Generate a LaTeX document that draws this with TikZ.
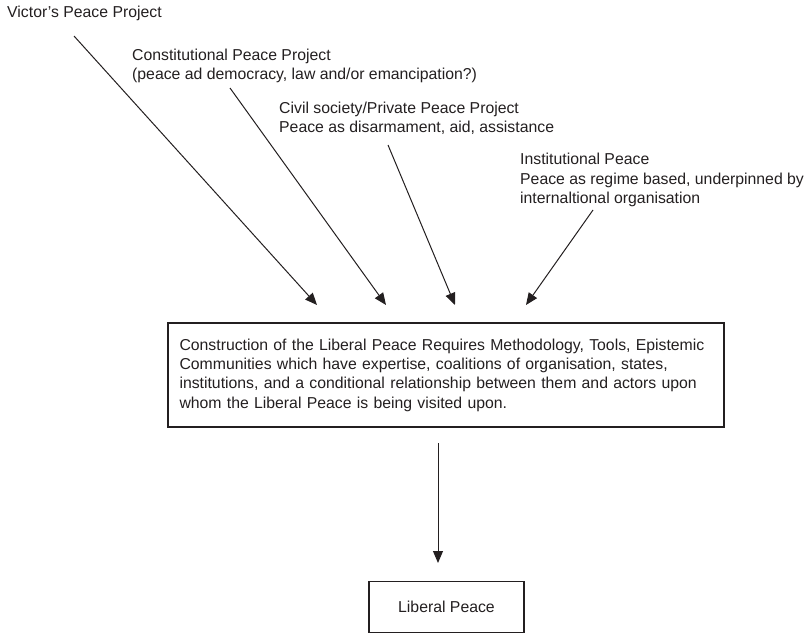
\documentclass[tikz,border=0pt]{standalone}
\usepackage{fontspec}
\setmainfont{Liberation Sans}
\usetikzlibrary{arrows.meta}
\definecolor{ink}{RGB}{35,31,32}
\begin{document}
\begin{tikzpicture}[x=1pt,y=-1pt,
  txt/.style={inner sep=0pt,anchor=base west,align=left,text=ink,
    font=\fontsize{15.8pt}{19.3pt}\selectfont},
  boxed/.style={draw=ink,line width=1.2pt,text=ink,
    font=\fontsize{15.8pt}{19.3pt}\selectfont},
  conn/.style={draw=ink,line width=1pt,-{Triangle[length=12pt,width=10pt]}}]
\useasboundingbox (0,0) rectangle (811,634);
% source texts (base anchor = baseline of last line)
\node[txt] (victor) at (7,18) {Victor’s Peace Project};
\node[txt] (const) at (132,80) {Constitutional Peace Project\\(peace ad democracy, law and/or emancipation?)};
\node[txt] (civil) at (279,132.5) {Civil society/Private Peace Project\\Peace as disarmament, aid, assistance};
\node[txt] (inst) at (520,203.5) {Institutional Peace\\Peace as regime based, underpinned by\\internaltional organisation};
% boxes
\node[boxed,minimum width=556pt,minimum height=104pt,text width=533pt,inner xsep=11.5pt,align=left] (constr) at (446,375)
  {Construction of the Liberal Peace Requires Methodology, Tools, Epistemic\\Communities which have expertise, coalitions of organisation, states,\\institutions, and a conditional relationship between them and actors upon\\whom the Liberal Peace is being visited upon.};
\node[boxed,minimum width=155pt,minimum height=50.5pt] (lib) at (446.5,607) {Liberal Peace};
% connector ends
\coordinate (v0) at (74,36);
\coordinate (v1) at (317,305);
\coordinate (c0) at (230,88);
\coordinate (c1) at (386,305);
\coordinate (s0) at (388,145);
\coordinate (s1) at (455,305);
\coordinate (i0) at (593,210);
\coordinate (i1) at (526,305);
\coordinate (d0) at (438,443);
\coordinate (d1) at (438,563);
\draw[conn] (v0) -- (v1);
\draw[conn] (c0) -- (c1);
\draw[conn] (s0) -- (s1);
\draw[conn] (i0) -- (i1);
\draw[conn] (d0) -- (d1);
\end{tikzpicture}
\end{document}
